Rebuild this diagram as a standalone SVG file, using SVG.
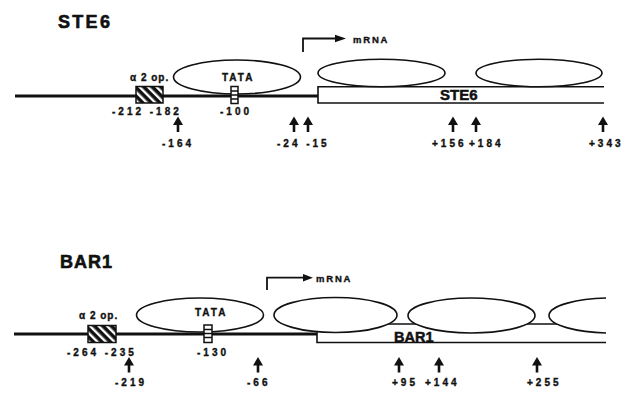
<svg xmlns="http://www.w3.org/2000/svg" width="635" height="393" viewBox="0 0 635 393">
  <style>
    .t { font-family: "Liberation Sans", Arial, sans-serif; font-weight: bold; fill: #111; stroke: #111; stroke-width: 0.35; }
    .title { font-size: 18px; stroke-width: 0.6; }
    .num { font-size: 10px; letter-spacing: 3px; }
    .lab { font-size: 10px; letter-spacing: 1px; }
    .tata { font-size: 10px; letter-spacing: 2px; }
    .mrna { font-size: 9.5px; letter-spacing: 1.8px; }
    .gene { font-size: 15px; stroke-width: 0.5; }
    .dna { stroke: #111; stroke-width: 3.2; fill: none; }
    .nuc { fill: #fff; stroke: #111; stroke-width: 1.6; }
    .orf { fill: none; stroke: #111; stroke-width: 1.6; }
    .op { fill: url(#hatch); stroke: #111; stroke-width: 1.5; }
    .box { fill: #fff; stroke: #111; stroke-width: 1.5; }
    .bar { stroke: #111; stroke-width: 1.6; }
    .start { fill: none; stroke: #111; stroke-width: 1.8; }
  </style>
  <defs>
    <pattern id="hatch" width="6" height="6" patternUnits="userSpaceOnUse" patternTransform="rotate(-45)">
      <rect width="6" height="6" fill="#111"/>
      <rect x="0" y="0" width="2.4" height="6" fill="#fff"/>
    </pattern>
    <!-- upward pointing site marker -->
    <path id="tick" d="M0 0 L5 8.5 L1.3 8.5 L1.3 15.5 L-1.3 15.5 L-1.3 8.5 L-5 8.5 Z" fill="#111"/>
    <clipPath id="edge">
      <rect x="0" y="0" width="606" height="393"/>
    </clipPath>
  </defs>

  <!-- ===================== STE6 ===================== -->
  <g id="ste6">
    <text class="t title" x="58" y="28" style="letter-spacing:2.3px">STE6</text>

    <g id="ste6-gene">
      <path class="orf" d="M604 86.7 H318 V103 H604"/>
    </g>
    <g id="ste6-nucleosomes">
      <ellipse class="nuc" cx="237" cy="77" rx="63.5" ry="17"/>
      <ellipse class="nuc" cx="381.5" cy="73" rx="63.5" ry="13.8"/>
      <ellipse class="nuc" cx="539" cy="73" rx="63" ry="13.8"/>
    </g>
    <g id="ste6-dna">
      <path class="dna" d="M15 96 H318"/>
    </g>
    <g id="ste6-operator">
      <rect class="op" x="136" y="86.5" width="27" height="16.5"/>
      <text class="t lab" x="130" y="81">α 2 op.</text>
      <text class="t num" x="112" y="115">-212 -182</text>
    </g>
    <g id="ste6-tata">
      <rect class="box" x="231" y="86.5" width="7" height="17"/>
      <path class="bar" d="M231 91 H238 M231 95 H238 M231 99 H238"/>
      <text class="t tata" x="222" y="81">TATA</text>
      <text class="t num" x="220" y="115">-100</text>
    </g>
    <g id="ste6-start">
      <path class="start" d="M303 52 V38.5 H337"/>
      <path d="M335 34.8 L346 38.5 L335 42.2 Z" fill="#111"/>
      <text class="t mrna" x="353" y="43">mRNA</text>
    </g>
    <text class="t gene" x="440" y="100">STE6</text>

    <g id="ste6-sites">
      <use href="#tick" x="178" y="116.5"/>
      <use href="#tick" x="294" y="116.5"/>
      <use href="#tick" x="308" y="116.5"/>
      <use href="#tick" x="453" y="116.5"/>
      <use href="#tick" x="476" y="116.5"/>
      <use href="#tick" x="603" y="116.5"/>
      <text class="t num" x="162" y="146.5">-164</text>
      <text class="t num" x="277" y="146.5">-24 -15</text>
      <text class="t num" x="432" y="146.5">+156</text>
      <text class="t num" x="469" y="146.5">+184</text>
      <text class="t num" x="589" y="146.5">+343</text>
    </g>
  </g>

  <!-- ===================== BAR1 ===================== -->
  <g id="bar1">
    <text class="t title" x="60" y="268" style="letter-spacing:1px">BAR1</text>

    <g id="bar1-gene" clip-path="url(#edge)">
      <path class="orf" d="M610 324 H317 V342.5 H610"/>
      <ellipse class="nuc" cx="335.5" cy="315" rx="61.5" ry="17.5"/>
      <ellipse class="nuc" cx="471.5" cy="315.5" rx="63.5" ry="17.5"/>
      <ellipse class="nuc" cx="612" cy="315.5" rx="63" ry="17.5"/>
    </g>
    <g id="bar1-nucleosome">
      <ellipse class="nuc" cx="200" cy="315" rx="63.5" ry="17"/>
    </g>
    <g id="bar1-dna">
      <path class="dna" d="M14 334 H317"/>
    </g>
    <g id="bar1-operator">
      <rect class="op" x="88" y="325.5" width="28" height="17"/>
      <text class="t lab" x="79" y="319">α 2 op.</text>
      <text class="t num" x="67" y="356">-264 -235</text>
    </g>
    <g id="bar1-tata">
      <rect class="box" x="204" y="325" width="8" height="17.5"/>
      <path class="bar" d="M204 329.5 H212 M204 333.5 H212 M204 337.5 H212"/>
      <text class="t tata" x="195" y="316">TATA</text>
      <text class="t num" x="197" y="356">-130</text>
    </g>
    <g id="bar1-start">
      <path class="start" d="M267 290 V277.7 H305"/>
      <path d="M303 274 L313 277.7 L303 281.4 Z" fill="#111"/>
      <text class="t mrna" x="316" y="281.5">mRNA</text>
    </g>
    <text class="t gene" x="394" y="342" style="font-size:14.5px">BAR1</text>

    <g id="bar1-sites">
      <use href="#tick" x="129" y="357"/>
      <use href="#tick" x="258" y="357"/>
      <use href="#tick" x="399" y="357"/>
      <use href="#tick" x="439" y="357"/>
      <use href="#tick" x="537" y="357"/>
      <text class="t num" x="115" y="386">-219</text>
      <text class="t num" x="247" y="386">-66</text>
      <text class="t num" x="392" y="386">+95</text>
      <text class="t num" x="425" y="386">+144</text>
      <text class="t num" x="527" y="386">+255</text>
    </g>
  </g>
</svg>
